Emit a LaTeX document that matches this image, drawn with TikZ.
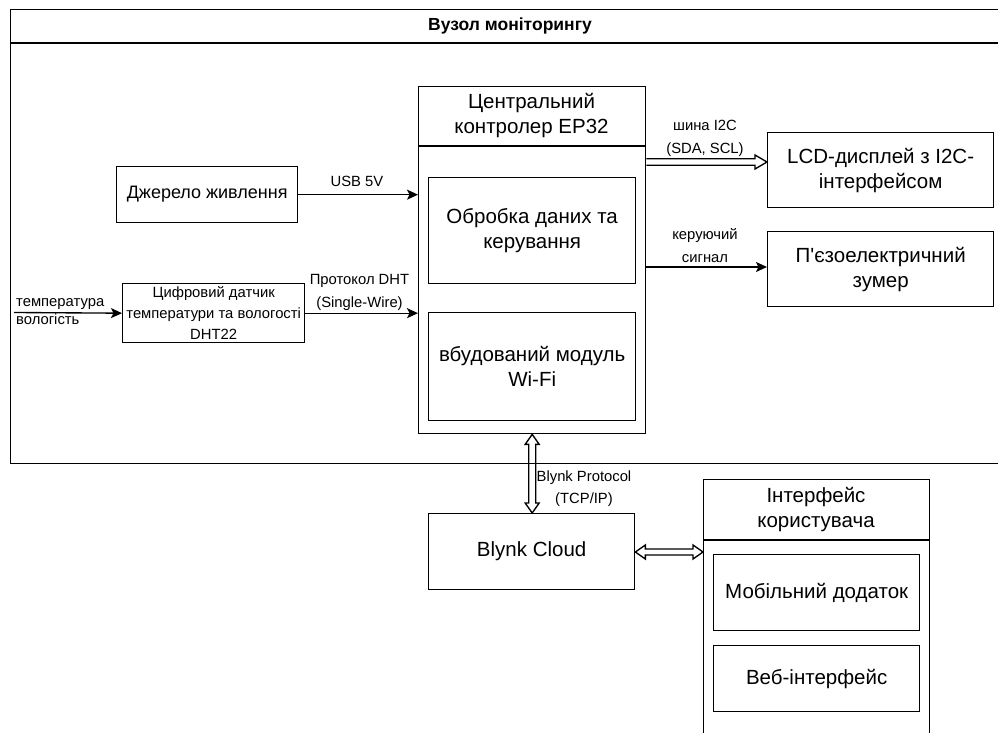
\documentclass[tikz,border=0pt]{standalone}
\usepackage{fontspec}
\setmainfont{Liberation Sans}[Ligatures=TeXOff]
\usetikzlibrary{arrows.meta,calc}
\begin{document}
\begin{tikzpicture}[x=1pt,y=-1pt,
  ln/.style={line width=1.35pt, draw=black},
  box/.style={ln, inner sep=0pt, anchor=north west},
  big/.style={inner sep=0pt, align=center, font=\fontsize{20.5}{25}\selectfont},
  lbl/.style={inner sep=0pt, anchor=base, font=\fontsize{14.8}{18}\selectfont},
  arr/.style={ln, -{Stealth[length=11pt,width=10pt,inset=2.5pt]}},
  flex/.style={ln, line join=miter}]
\useasboundingbox (0,0) rectangle (998,733);
\clip (0,0) rectangle (998,733);

% outer container
\node[box, minimum width=1000, minimum height=454] (frame) at (10,9) {};
\coordinate (yT) at (0,43);
\draw[ln] (frame.west |- yT) -- (frame.east |- yT);
\node[inner sep=0pt, font=\bfseries\fontsize{17.5}{20}\selectfont] (title) at (510,26) {Вузол моніторингу};

% central controller
\node[box, minimum width=227, minimum height=347] (ctrl) at (418,86) {};
\coordinate (yH) at (0,146);
\draw[ln] (ctrl.west |- yH) -- (ctrl.east |- yH);
\node[big] (ctrlT) at (531.5,116) {Центральний\\контролер EP32};
\node[box, minimum width=207, minimum height=106] (proc) at (428,177) {};
\node[big] (procT) at (proc.center) {Обробка даних та\\керування};
\node[box, minimum width=207, minimum height=108] (wifi) at (428,312) {};
\node[big] (wifiT) at (wifi.center) {вбудований модуль\\Wi-Fi};

% left side
\node[box, minimum width=181, minimum height=56] (pwr) at (116,166) {};
\node[inner sep=0pt, font=\fontsize{18}{22}\selectfont] (pwrT) at (pwr.center) {Джерело живлення};
\node[box, minimum width=182, minimum height=59] (dht) at (122,283) {};
\node[inner sep=0pt, align=center, font=\fontsize{14.8}{21}\selectfont] (dhtT) at (dht.center) {Цифровий датчик\\температури та вологості\\DHT22};

% right side
\node[box, minimum width=226, minimum height=75] (lcd) at (767,132) {};
\node[big] (lcdT) at (lcd.center) {LCD-дисплей з I2C-\\інтерфейсом};
\node[box, minimum width=226, minimum height=75] (zum) at (767,231) {};
\node[big] (zumT) at (zum.center) {П'єзоелектричний\\зумер};

% cloud
\node[box, minimum width=206, minimum height=76] (cloud) at (428,513) {};
\node[big] (cloudT) at (cloud.center) {Blynk Cloud};

% user interface container
\node[box, minimum width=226, minimum height=300] (ui) at (703,479) {};
\coordinate (yU) at (0,540);
\draw[ln] (ui.west |- yU) -- (ui.east |- yU);
\node[big] (uiT) at (816,510) {Інтерфейс\\користувача};
\node[box, minimum width=206, minimum height=76] (mob) at (713,554) {};
\node[big] (mobT) at (mob.center) {Мобільний додаток};
\node[box, minimum width=206, minimum height=66] (web) at (713,645) {};
\node[big] (webT) at (web.center) {Веб-інтерфейс};

% plain arrows
\draw[arr] (pwr.east) -- (pwr.east -| ctrl.west);
\coordinate (inp) at (14,312.5);
\draw[arr] (inp) -- (dht.west);
\draw[arr] (dht.east) -- (dht.east -| ctrl.west);
\coordinate (yS) at (0,267);
\draw[arr] (ctrl.east |- yS) -- (zum.west |- yS);

% I2C flex arrow
\coordinate (yI) at (0,162);
\coordinate (iA) at (ctrl.east |- yI);
\coordinate (iB) at (lcd.west |- yI);
\draw[flex] ($(iA)+(0,-3.3)$) -- ($(iB)+(-12,-3.3)$) -- ($(iB)+(-12,-7)$) -- (iB)
  -- ($(iB)+(-12,7)$) -- ($(iB)+(-12,3.3)$) -- ($(iA)+(0,3.3)$);

% Blynk protocol vertical flex arrow
\coordinate (bA) at (ctrl.south);
\coordinate (bB) at (cloud.north -| ctrl.south);
\draw[flex] (bA) -- ($(bA)+(-7,10)$) -- ($(bA)+(-3.5,10)$) -- ($(bB)+(-3.5,-10)$) -- ($(bB)+(-7,-10)$)
  -- (bB) -- ($(bB)+(7,-10)$) -- ($(bB)+(3.5,-10)$) -- ($(bA)+(3.5,10)$) -- ($(bA)+(7,10)$) -- cycle;

% cloud - UI flex arrow
\coordinate (yC) at (0,552);
\coordinate (cA) at (cloud.east |- yC);
\coordinate (cB) at (ui.west |- yC);
\draw[flex] (cA) -- ($(cA)+(10,-7)$) -- ($(cA)+(10,-3)$) -- ($(cB)+(-10,-3)$) -- ($(cB)+(-10,-7)$)
  -- (cB) -- ($(cB)+(-10,7)$) -- ($(cB)+(-10,3)$) -- ($(cA)+(10,3)$) -- ($(cA)+(10,7)$) -- cycle;

% labels
\node[lbl] (usbL) at (357,186.5) {USB 5V};
\node[lbl] (dhtL1) at (359.5,284) {Протокол DHT};
\node[lbl] (dhtL2) at (359.5,307) {(Single-Wire)};
\node[lbl, anchor=base west] (inL1) at (16,306.7) {температура};
\node[lbl, anchor=base west] (inL2) at (16,324.5) {вологість};
\node[lbl] (i2cL1) at (705,130.7) {шина I2C};
\node[lbl] (i2cL2) at (705,153.3) {(SDA, SCL)};
\node[lbl] (sigL1) at (705,239) {керуючий};
\node[lbl] (sigL2) at (705,262.5) {сигнал};
\node[lbl] (bpL1) at (584,481.7) {Blynk Protocol};
\node[lbl] (bpL2) at (584,503.3) {(TCP/IP)};
\end{tikzpicture}
\end{document}
